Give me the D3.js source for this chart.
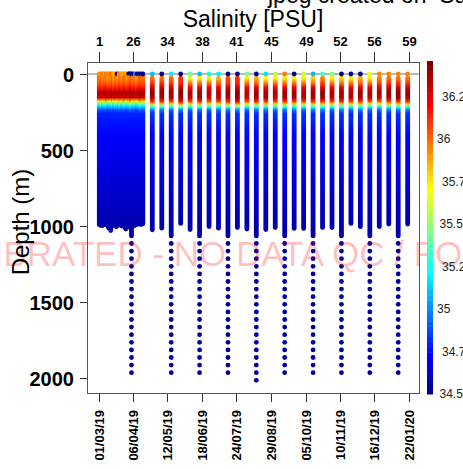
<!DOCTYPE html>
<html><head><meta charset="utf-8">
<script src="https://cdn.jsdelivr.net/npm/d3@7"></script>
<style>
body{margin:0;background:#fff}
svg{display:block}
text{font-family:"Liberation Sans",Arial,Helvetica,sans-serif}
</style>
</head><body>
<svg id="c" width="463" height="469"></svg>
<script>
// ---------------- DATA ----------------
const profDate = ["2019-03-01","2019-03-02","2019-03-04","2019-03-05","2019-03-07","2019-03-08","2019-03-10","2019-03-11","2019-03-13","2019-03-14",
"2019-03-16","2019-03-17","2019-03-19","2019-03-20","2019-03-22","2019-03-23","2019-03-25","2019-03-26","2019-03-28","2019-03-29",
"2019-03-31","2019-04-01","2019-04-02","2019-04-03","2019-04-04","2019-04-06","2019-04-08","2019-04-10","2019-04-12","2019-04-14","2019-04-16",
"2019-04-26","2019-05-06","2019-05-16","2019-05-26","2019-06-05","2019-06-15","2019-06-25","2019-07-05","2019-07-15","2019-07-25",
"2019-08-04","2019-08-14","2019-08-24","2019-09-03","2019-09-13","2019-09-23","2019-10-03","2019-10-13","2019-10-23","2019-11-02",
"2019-11-12","2019-11-22","2019-12-02","2019-12-12","2019-12-22","2020-01-01","2020-01-11","2020-01-21"];

// shallowest sample of the continuous part (m)
const colTop = [10,10,10,10,10,10,10,10,10,10,10,10,10,10,10,10,10,10,10,10,10,10,10,10,10,10,10,10,10,10,10,
28,28,28,28,28,28,28,28,28,28,28,28,28,28,28,28,28,28,28,28,28,28,28,28,28,28,28,28];
// deepest sample of the continuous part (m)
const maxDepth = [990,995,998,990,985,992,1000,1015,1030,1000,995,990,1005,990,985,995,1000,990,1010,1020,1000,995,990,1015,1065,1000,995,990,985,990,985,
1025,1014,1065,983,1023,1065,1003,1014,1065,1010,1020,1065,1023,1010,1065,1016,1016,1065,1010,1010,1065,983,1004,1065,1003,987,1065,987];
// deepest of the sparse deep samples (0 = none)
const deepMax = [0,0,0,0,0,0,0,0,0,0,0,0,0,0,0,0,0,0,0,0,0,0,0,0,1965,0,0,0,0,0,0,
0,0,1965,0,0,1965,0,0,1965,0,0,2015,0,0,1965,0,0,1965,0,0,1965,0,0,1965,0,0,1965,0];
const deepDepths = [1115,1165,1215,1265,1315,1365,1415,1465,1515,1565,1615,1665,1715,1765,1815,1865,1915,1965,2015];
const deepSal    = [34.56,34.56,34.56,34.56,34.56,34.56,34.56,34.56,34.56,34.56,34.56,34.56,34.56,34.56,34.56,34.56,34.56,34.56,34.56];

// surface sample (0 m)
const surfSal = [35.95,35.9,36.0,35.95,35.85,35.95,36.0,35.9,35.95,36.0,35.9,35.85,35.95,34.5,35.9,35.95,35.9,35.85,35.95,35.9,35.9,34.5,34.5,34.5,34.5,34.5,35.0,34.5,34.5,34.5,34.5,
35.1,34.5,35.2,34.5,35.4,35.1,35.25,35.2,34.5,34.5,35.45,34.5,35.15,35.55,35.95,34.5,35.6,35.1,35.35,35.45,34.5,34.5,34.5,35.65,35.95,35.95,35.95,35.95];

// salinity at standard levels
const levels = [30,60,90,120,155,180,195,208,220,235,260,400,1000];
const s30 = [36.0,35.98,36.02,35.9,36.0,35.97,36.03,35.85,36.0,35.97,36.02,35.9,36.0,35.95,35.85,36.0,35.97,35.9,36.02,36.0,35.95,35.85,36.0,35.97,36.02,35.95,36.0,35.9,35.97,36.02,36.0,
36.0,36.0,36.0,36.1,35.65,35.75,35.75,35.85,36.05,36.1,35.75,35.85,35.7,35.75,35.75,35.75,35.75,35.8,35.95,35.75,35.8,35.75,35.85,35.75,35.95,36.0,36.0,36.0];
const s60 = [36.05,36.03,36.07,36.0,36.05,36.04,36.08,35.98,36.05,36.03,36.07,36.0,36.05,36.02,35.98,36.05,36.04,36.0,36.07,36.05,36.02,35.98,36.05,36.04,36.07,36.02,36.05,36.0,36.04,36.07,36.05,
36.12,36.12,36.12,36.15,35.95,35.98,35.98,36.02,36.12,36.15,35.98,36.02,35.95,35.98,35.98,35.98,35.98,36.0,36.08,35.98,36.0,35.98,36.02,35.98,36.08,36.12,36.12,36.12];
const s90 = [36.18,36.15,36.2,36.12,36.18,36.16,36.2,36.1,36.18,36.15,36.2,36.12,36.18,36.15,36.1,36.18,36.16,36.12,36.2,36.18,36.15,36.1,36.18,36.16,36.2,36.15,36.18,36.12,36.16,36.2,36.18,
36.28,36.28,36.27,36.3,36.2,36.24,36.22,36.24,36.28,36.3,36.22,36.25,36.22,36.22,36.24,36.22,36.24,36.25,36.27,36.22,36.25,36.24,36.26,36.22,36.26,36.28,36.28,36.28];
const s120 = [36.36,36.34,36.38,36.33,36.36,36.35,36.38,36.32,36.36,36.34,36.38,36.33,36.36,36.35,36.32,36.36,36.35,36.33,36.38,36.36,36.34,36.32,36.36,36.35,36.38,36.34,36.36,36.33,36.35,36.38,36.36,
36.4,36.4,36.38,36.4,36.35,36.38,36.32,36.34,36.4,36.4,36.32,36.38,36.38,36.36,36.38,36.38,36.36,36.38,36.4,36.36,36.38,36.36,36.38,36.35,36.34,36.38,36.4,36.4];
const s155 = [36.3,36.28,36.33,36.26,36.3,36.29,36.33,36.25,36.3,36.28,36.33,36.26,36.3,36.28,36.25,36.3,36.29,36.26,36.33,36.3,36.28,36.25,36.3,36.29,36.33,36.28,36.3,36.26,36.29,36.33,36.3,
36.36,36.36,36.34,36.38,36.32,36.36,36.3,36.32,36.36,36.38,36.3,36.36,36.35,36.33,36.36,36.35,36.33,36.36,36.37,36.33,36.36,36.33,36.36,36.32,36.3,36.35,36.37,36.36];
const s180 = [35.8,35.7,35.9,35.65,35.8,35.75,35.95,35.6,35.8,35.7,35.9,35.65,35.8,35.75,35.6,35.8,35.75,35.65,35.9,35.8,35.7,35.6,35.8,35.75,35.9,35.7,35.8,35.65,35.75,35.9,35.8,
36.15,36.15,36.12,36.2,36.1,36.15,36.08,36.1,36.15,36.2,36.08,36.15,36.12,36.1,36.15,36.12,36.1,36.15,36.15,36.1,36.15,36.1,36.15,36.08,36.05,36.12,36.15,36.15];
const s195 = [35.45,35.38,35.55,35.35,35.45,35.42,35.6,35.3,35.45,35.38,35.55,35.35,35.45,35.42,35.3,35.45,35.42,35.35,35.55,35.45,35.38,35.3,35.45,35.42,35.55,35.38,35.45,35.35,35.42,35.55,35.45,
35.85,35.85,35.8,35.95,35.8,35.85,35.78,35.8,35.88,35.95,35.78,35.85,35.82,35.8,35.85,35.82,35.8,35.85,35.85,35.8,35.85,35.8,35.85,35.78,35.75,35.82,35.85,35.85];
const s208 = [35.22,35.18,35.3,35.15,35.22,35.2,35.32,35.12,35.22,35.18,35.3,35.15,35.22,35.2,35.12,35.22,35.2,35.15,35.3,35.22,35.18,35.12,35.22,35.2,35.3,35.18,35.22,35.15,35.2,35.3,35.22,
35.5,35.5,35.45,35.6,35.45,35.5,35.42,35.45,35.52,35.6,35.42,35.5,35.48,35.45,35.5,35.48,35.45,35.5,35.5,35.45,35.5,35.45,35.5,35.42,35.4,35.48,35.5,35.5];
const s220 = [35.1,35.05,35.15,35.02,35.1,35.08,35.18,35.0,35.1,35.05,35.15,35.02,35.1,35.08,35.0,35.1,35.08,35.02,35.15,35.1,35.05,35.0,35.1,35.08,35.15,35.05,35.1,35.02,35.08,35.15,35.1,
35.22,35.22,35.2,35.3,35.2,35.22,35.18,35.2,35.24,35.3,35.18,35.22,35.2,35.2,35.22,35.2,35.2,35.22,35.22,35.2,35.22,35.2,35.22,35.18,35.16,35.2,35.22,35.22];
const s235 = [34.9,34.88,34.93,34.86,34.9,34.89,34.95,34.85,34.9,34.88,34.93,34.86,34.9,34.89,34.85,34.9,34.89,34.86,34.93,34.9,34.88,34.85,34.9,34.89,34.93,34.88,34.9,34.86,34.89,34.93,34.9,
34.97,34.97,34.95,35.02,34.95,34.97,34.94,34.95,34.98,35.02,34.94,34.97,34.96,34.95,34.97,34.96,34.95,34.97,34.97,34.95,34.97,34.95,34.97,34.94,34.93,34.96,34.97,34.97];
const s260 = [34.8,34.8,34.8,34.8,34.8,34.8,34.8,34.8,34.8,34.8,34.8,34.8,34.8,34.8,34.8,34.8,34.8,34.8,34.8,34.8,34.8,34.8,34.8,34.8,34.8,34.8,34.8,34.8,34.8,34.8,34.8,
34.82,34.82,34.82,34.82,34.82,34.82,34.82,34.82,34.82,34.82,34.82,34.82,34.82,34.82,34.82,34.82,34.82,34.82,34.82,34.82,34.82,34.82,34.82,34.82,34.82,34.82,34.82,34.82];
const s400 = [34.73,34.73,34.73,34.73,34.73,34.73,34.73,34.73,34.73,34.73,34.73,34.73,34.73,34.73,34.73,34.73,34.73,34.73,34.73,34.73,34.73,34.73,34.73,34.73,34.73,34.73,34.73,34.73,34.73,34.73,34.73,
34.74,34.74,34.74,34.74,34.74,34.74,34.74,34.74,34.74,34.74,34.74,34.74,34.74,34.74,34.74,34.74,34.74,34.74,34.74,34.74,34.74,34.74,34.74,34.74,34.74,34.74,34.74,34.74];
const s1000 = [34.58,34.58,34.58,34.58,34.58,34.58,34.58,34.58,34.58,34.58,34.58,34.58,34.58,34.58,34.58,34.58,34.58,34.58,34.58,34.58,34.58,34.58,34.58,34.58,34.58,34.58,34.58,34.58,34.58,34.58,34.58,
34.58,34.58,34.58,34.58,34.58,34.58,34.58,34.58,34.58,34.58,34.58,34.58,34.58,34.58,34.58,34.58,34.58,34.58,34.58,34.58,34.58,34.58,34.58,34.58,34.58,34.58,34.58,34.58];

// axes
const dateTicks = ["2019-03-01","2019-04-06","2019-05-12","2019-06-18","2019-07-24","2019-08-29","2019-10-05","2019-11-10","2019-12-16","2020-01-22"];
const profTickLabels = ["1","26","34","38","41","45","49","52","56","59"];
const depthTicks = [0,500,1000,1500,2000];
const zRange = [34.5,36.46];
const cbTicks = [34.5,34.75,35,35.25,35.5,35.75,36,36.25];

// ---------------- CHART ----------------
const svg = d3.select("#c");
const parse = d3.timeParse("%Y-%m-%d");
const dates = profDate.map(parse);
const t0 = dates[0], t1 = dates[dates.length-1], pad = (t1 - t0) * 0.04;
const x = d3.scaleTime().domain([new Date(+t0 - pad), new Date(+t1 + pad)]).range([87, 420]);
const y = d3.scaleLinear().domain([-79, 2105]).range([62, 394]);

function jet(s){
  let i = Math.floor((s - zRange[0]) / (zRange[1] - zRange[0]) * 64);
  i = Math.max(0, Math.min(63, i));
  const t = (i + 1) / 64;
  const c = v => Math.round(255 * Math.max(0, Math.min(1, v)));
  return `rgb(${c(Math.min(4*t-1.5, -4*t+4.5))},${c(Math.min(4*t-0.5, -4*t+3.5))},${c(Math.min(4*t+0.5, -4*t+2.5))})`;
}

const levelVals = [s30,s60,s90,s120,s155,s180,s195,s208,s220,s235,s260,s400,s1000];
const defs = svg.append("defs");
const yA = y(levels[0]), yB = y(levels[levels.length-1]);
profDate.forEach((d, i) => {
  const g = defs.append("linearGradient").attr("id", "g" + i)
    .attr("gradientUnits", "userSpaceOnUse")
    .attr("x1", 0).attr("x2", 0).attr("y1", yA).attr("y2", yB);
  levels.forEach((L, k) => g.append("stop")
    .attr("offset", (y(L) - yA) / (yB - yA))
    .attr("stop-color", jet(levelVals[k][i])));
});

svg.append("clipPath").attr("id","pc").append("rect").attr("x",87).attr("y",62).attr("width",333).attr("height",332);
const plot = svg.append("g").attr("clip-path","url(#pc)");

// zero depth line
plot.append("line").attr("x1",87).attr("x2",420).attr("y1",y(0)).attr("y2",y(0))
  .attr("stroke","#777").attr("stroke-width",1);

const R = 2.4;
profDate.forEach((d, i) => {
  const px = x(dates[i]);
  const g = plot.append("g");
  g.append("line").attr("x1", px).attr("x2", px)
    .attr("y1", y(colTop[i])).attr("y2", y(maxDepth[i]))
    .attr("stroke", `url(#g${i})`).attr("stroke-width", 2*R).attr("stroke-linecap", "round");
  g.append("circle").attr("cx", px).attr("cy", y(0)).attr("r", R).attr("fill", jet(surfSal[i]));
  if (deepMax[i] > 0) {
    deepDepths.forEach((dd, k) => {
      if (dd <= deepMax[i]) g.append("circle").attr("cx", px).attr("cy", y(dd)).attr("r", R).attr("fill", jet(deepSal[k]));
    });
  }
});

// watermark
svg.append("text").attr("x", -125).attr("y", 266)
  .attr("font-size", 35).attr("fill", "red").attr("fill-opacity", 0.25)
  .text("UNCALIBRATED - NO DATA QC / FOR INFORMATION ONLY");

// box
svg.append("rect").attr("x",87.5).attr("y",62.5).attr("width",332).attr("height",331)
  .attr("fill","none").attr("stroke","#555").attr("stroke-width",1);

const ink = "#333";
dateTicks.forEach((d, k) => {
  const px = Math.round(x(parse(d))) + 0.5;
  // top axis (profile numbers)
  svg.append("line").attr("x1",px).attr("x2",px).attr("y1",52).attr("y2",62).attr("stroke",ink);
  svg.append("text").attr("x",px).attr("y",46).attr("text-anchor","middle")
    .attr("font-size",13).attr("font-weight","bold").text(profTickLabels[k]);
  // bottom axis (dates)
  svg.append("line").attr("x1",px).attr("x2",px).attr("y1",394).attr("y2",402).attr("stroke",ink);
  svg.append("text").attr("transform",`translate(${px+4.6},410) rotate(-90)`)
    .attr("text-anchor","end").attr("font-size",13).attr("font-weight","bold")
    .text(d3.timeFormat("%d/%m/%y")(parse(d)));
});

// left axis
depthTicks.forEach(v => {
  const py = Math.round(y(v)) + 0.5;
  svg.append("line").attr("x1",80).attr("x2",87).attr("y1",py).attr("y2",py).attr("stroke",ink);
  svg.append("text").attr("x",74).attr("y",py).attr("dy","0.36em").attr("text-anchor","end")
    .attr("font-size",20).attr("font-weight","bold").text(v);
});

// titles
svg.append("text").attr("x",268).attr("y",3).attr("font-size",23).attr("xml:space","preserve")
  .style("white-space","pre").text("jpeg created on  Sat Feb 01 2020");
svg.append("text").attr("x",253).attr("y",27).attr("text-anchor","middle").attr("font-size",23).text("Salinity [PSU]");
svg.append("text").attr("transform","translate(29,222) rotate(-90)").attr("text-anchor","middle")
  .attr("font-size",24).text("Depth (m)");

// colorbar
const cy = d3.scaleLinear().domain(zRange).range([394, 61]);
const step = (zRange[1]-zRange[0]) / 64;
d3.range(64).forEach(i => {
  const lo = zRange[0] + i*step, hi = lo + step;
  svg.append("rect").attr("x",427).attr("width",6)
    .attr("y", cy(hi)).attr("height", cy(lo) - cy(hi) + 0.5)
    .attr("fill", jet(lo + step/2));
});
cbTicks.forEach(v => {
  const s = String(v);
  const dx = Number.isInteger(v) ? 437 : (s.length === 4 ? 439.5 : 442);
  svg.append("text").attr("x",dx).attr("y",cy(v)).attr("dy","0.36em")
    .attr("font-size",12).attr("fill","#222").text(s);
});
</script>
</body></html>
